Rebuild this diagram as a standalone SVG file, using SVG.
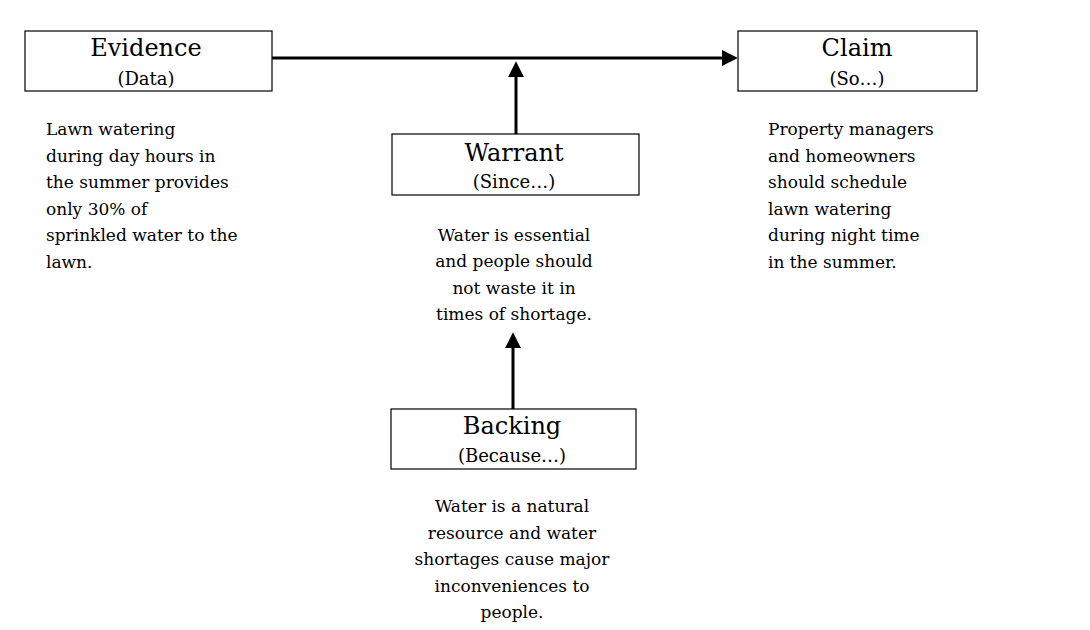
<svg xmlns="http://www.w3.org/2000/svg" width="1090" height="630" viewBox="0 0 1090 630">
<defs>
<marker id="ah" markerUnits="userSpaceOnUse" markerWidth="16" markerHeight="16" viewBox="0 0 15 15" refX="2" refY="7.5" orient="auto">
<path d="M0,0 L15,7.5 L0,15 z" fill="#000"/>
</marker>
<style>
.box{fill:#fff;stroke:#000;stroke-width:1.2}
.title{font-family:"DejaVu Serif","Liberation Serif",serif;font-size:24px;fill:#000;text-anchor:middle}
.sub{font-family:"DejaVu Serif","Liberation Serif",serif;font-size:18px;fill:#000;text-anchor:middle}
.body{font-family:"DejaVu Serif","Liberation Serif",serif;font-size:17px;fill:#000}
.mid{text-anchor:middle}
.conn{stroke:#000;stroke-width:3;fill:none;marker-end:url(#ah)}
</style>
</defs>
<rect width="1090" height="630" fill="#fff"/>
<g id="connectors">
<line class="conn" x1="272" y1="58" x2="724" y2="58"/>
<line class="conn" x1="516" y1="134" x2="516" y2="75"/>
<line class="conn" x1="513" y1="409" x2="513" y2="346"/>
</g>
<g id="evidence">
<rect class="box" x="25" y="31" width="247" height="60"/>
<text class="title" x="146" y="56">Evidence</text>
<text class="sub" x="146" y="85">(Data)</text>
<text class="body" x="46" y="135">Lawn watering</text>
<text class="body" x="46" y="161.5">during day hours in</text>
<text class="body" x="46" y="188">the summer provides</text>
<text class="body" x="46" y="214.5">only 30% of</text>
<text class="body" x="46" y="241">sprinkled water to the</text>
<text class="body" x="46" y="267.5">lawn.</text>
</g>
<g id="claim">
<rect class="box" x="738" y="31" width="239" height="60"/>
<text class="title" x="857" y="56">Claim</text>
<text class="sub" x="857" y="85">(So…)</text>
<text class="body" x="768" y="135">Property managers</text>
<text class="body" x="768" y="161.5">and homeowners</text>
<text class="body" x="768" y="188">should schedule</text>
<text class="body" x="768" y="214.5">lawn watering</text>
<text class="body" x="768" y="241">during night time</text>
<text class="body" x="768" y="267.5">in the summer.</text>
</g>
<g id="warrant">
<rect class="box" x="392" y="134" width="247" height="61"/>
<text class="title" x="514" y="161">Warrant</text>
<text class="sub" x="514" y="188">(Since…)</text>
<text class="body mid" x="514" y="240.5">Water is essential</text>
<text class="body mid" x="514" y="267">and people should</text>
<text class="body mid" x="514" y="293.5">not waste it in</text>
<text class="body mid" x="514" y="320">times of shortage.</text>
</g>
<g id="backing">
<rect class="box" x="391" y="409" width="245" height="60"/>
<text class="title" x="512" y="434">Backing</text>
<text class="sub" x="512" y="462">(Because…)</text>
<text class="body mid" x="512" y="512">Water is a natural</text>
<text class="body mid" x="512" y="538.5">resource and water</text>
<text class="body mid" x="512" y="565">shortages cause major</text>
<text class="body mid" x="512" y="591.5">inconveniences to</text>
<text class="body mid" x="512" y="618">people.</text>
</g>
</svg>
